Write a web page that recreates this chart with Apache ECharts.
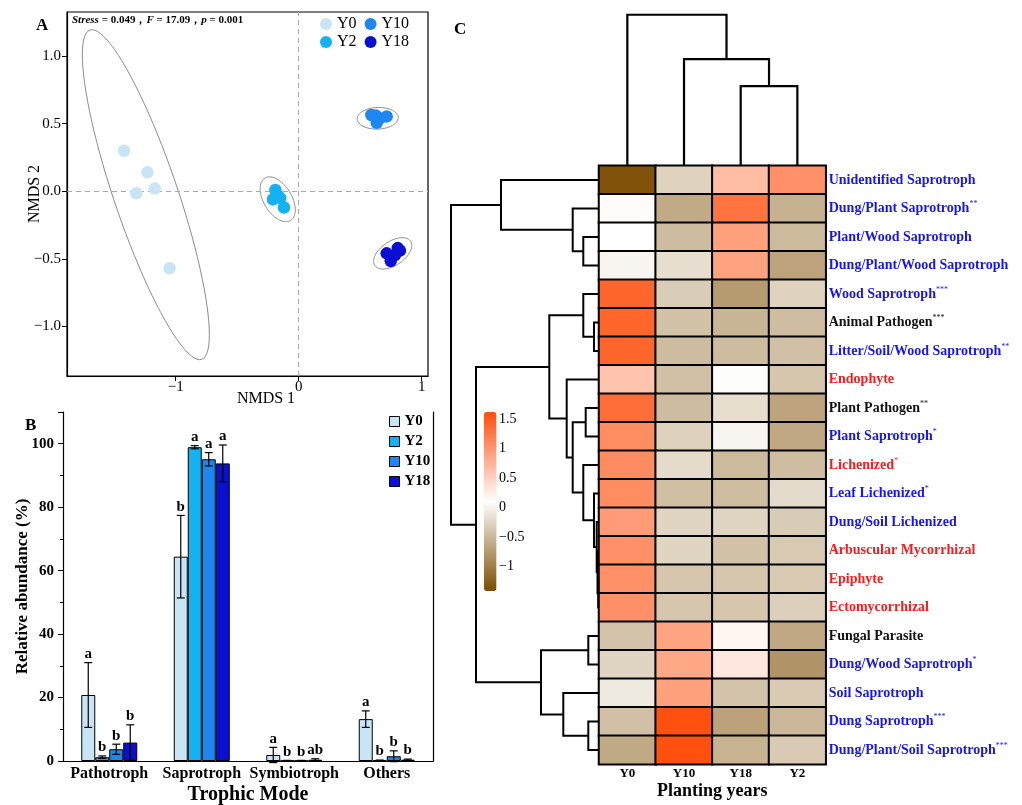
<!DOCTYPE html>
<html>
<head>
<meta charset="utf-8">
<script src="https://cdn.jsdelivr.net/npm/echarts@6/dist/echarts.min.js"></script>
<style>
html,body{margin:0;padding:0;background:#fff}
#main{width:1022px;height:805px}
</style>
</head>
<body>
<div id="main"></div>
<script>
var FONT = 'Liberation Serif, Times New Roman, serif';

/* ---- A: NMDS ---- */
var years = ['Y0', 'Y2', 'Y10', 'Y18'];
var yearColors = ['#c8e5f6', '#14b1f3', '#1d87ef', '#0b0fd3'];
var nmdsY0 = [[-1.42, 0.30], [-1.23, 0.14], [-1.32, -0.015], [-1.17, 0.02], [-1.05, -0.57]];
var nmdsY2 = [[-0.19, 0.01], [-0.21, -0.06], [-0.15, -0.05], [-0.17, -0.03], [-0.12, -0.12]];
var nmdsY10 = [[0.59, 0.564], [0.715, 0.554], [0.634, 0.507], [0.661, 0.54], [0.626, 0.56]];
var nmdsY18 = [[0.805, -0.42], [0.715, -0.459], [0.748, -0.516], [0.783, -0.471], [0.823, -0.439]];
// ellipse: centre x, centre y, semi-axis 1 (dx, dy), semi-axis 2 (dx, dy)
var ellipseY0 = [-1.243, -0.025, -0.454, 1.218, 0.246, 0.076];
var ellipseY2 = [-0.171, -0.059, 0.104, -0.157, 0.098, 0.053];
var ellipseY10 = [0.642, 0.540, 0.167, 0.004, 0.0, 0.08];
var ellipseY18 = [0.764, -0.459, 0.145, 0.090, 0.055, -0.073];
var nmdsXTicks = [-1, 0, 1];
var nmdsYTicks = [-1, -0.5, 0, 0.5, 1];

/* ---- B: trophic mode ---- */
var trophicModes = ['Pathotroph', 'Saprotroph', 'Symbiotroph', 'Others'];
var abunY0 = [20.8, 64.4, 1.9, 13.2];
var abunY2 = [1.2, 98.9, 0.1, 0.2];
var abunY10 = [3.7, 95.1, 0.1, 1.5];
var abunY18 = [5.8, 93.8, 0.4, 0.4];
var errY0 = [10.2, 13.0, 2.4, 2.6];
var errY2 = [0.4, 0.5, 0.1, 0.1];
var errY10 = [1.6, 2.1, 0.1, 1.7];
var errY18 = [5.6, 5.8, 0.3, 0.2];
var lettersY0 = ['a', 'b', 'a', 'a'];
var lettersY2 = ['b', 'a', 'b', 'b'];
var lettersY10 = ['b', 'a', 'b', 'b'];
var lettersY18 = ['b', 'a', 'ab', 'b'];

/* ---- C: heatmap ---- */
var heatCols = ['Y0', 'Y10', 'Y18', 'Y2'];
var heatRows = ['Unidentified Saprotroph', 'Dung/Plant Saprotroph', 'Plant/Wood Saprotroph',
    'Dung/Plant/Wood Saprotroph', 'Wood Saprotroph', 'Animal Pathogen', 'Litter/Soil/Wood Saprotroph',
    'Endophyte', 'Plant Pathogen', 'Plant Saprotroph', 'Lichenized', 'Leaf Lichenized',
    'Dung/Soil Lichenized', 'Arbuscular Mycorrhizal', 'Epiphyte', 'Ectomycorrhizal',
    'Fungal Parasite', 'Dung/Wood Saprotroph', 'Soil Saprotroph', 'Dung Saprotroph',
    'Dung/Plant/Soil Saprotroph'];
var rowStars = ['', '**', '', '', '***', '***', '**', '', '**', '*', '*', '*', '', '', '', '', '', '*', '', '***', '***'];
var rowGroup = ['b', 'b', 'b', 'b', 'b', 'k', 'b', 'r', 'k', 'b', 'r', 'b', 'b', 'r', 'r', 'r', 'k', 'b', 'b', 'b', 'b'];
var heatValues = [
    [-1.34, -0.27, 0.66, 1.04],
    [0.13, -0.61, 1.28, -0.55],
    [0.10, -0.46, 0.90, -0.48],
    [0.02, -0.18, 0.89, -0.67],
    [1.40, -0.32, -0.74, -0.27],
    [1.40, -0.41, -0.52, -0.45],
    [1.40, -0.46, -0.46, -0.43],
    [0.60, -0.43, 0.08, -0.38],
    [1.33, -0.46, -0.18, -0.66],
    [1.07, -0.29, 0.02, -0.63],
    [1.08, -0.20, -0.48, -0.45],
    [1.07, -0.44, -0.45, -0.20],
    [0.94, -0.26, -0.26, -0.33],
    [1.04, -0.26, -0.41, -0.35],
    [1.04, -0.38, -0.38, -0.35],
    [1.04, -0.38, -0.38, -0.30],
    [-0.40, 0.87, 0.18, -0.63],
    [-0.25, 0.84, 0.30, -0.79],
    [-0.08, 0.90, -0.40, -0.34],
    [-0.43, 1.58, -0.68, -0.50],
    [-0.62, 1.58, -0.54, -0.34]
];
var colorbarTicks = [1.5, 1, 0.5, 0, -0.5, -1];
// dendrograms: [childA, childB, height]; ids >= leaf count are earlier merges
var colLinkage = [[2, 3, 79.3], [1, 4, 106], [0, 5, 150.3]];
var rowLinkage = [
    [14, 15, 0.8], [13, 21, 1.5], [12, 22, 2.3], [11, 23, 5], [10, 24, 15.7],
    [8, 9, 13.3], [26, 25, 26.3], [7, 27, 32.3], [5, 6, 5], [4, 29, 15.7],
    [30, 28, 49.7], [2, 3, 15.7], [1, 32, 26.3], [0, 33, 98], [16, 17, 10.7],
    [19, 20, 10.7], [18, 36, 35.7], [35, 37, 58], [31, 38, 123], [34, 39, 148]
];

function minus(s) { return String(s).replace('-', '\u2212'); }

function dendroSegments(n, linkage, swap) {
    var pos = [], h = [], segs = [];
    for (var i = 0; i < n; i++) { pos[i] = i + 0.5; h[i] = 0; }
    linkage.forEach(function (m, k) {
        var a = m[0], b = m[1], hh = m[2];
        var pts = [[pos[a], h[a]], [pos[a], hh], [pos[b], hh], [pos[b], h[b]]];
        if (swap) pts = pts.map(function (p) { return [p[1], p[0]]; });
        segs.push({coords: pts});
        pos[n + k] = (pos[a] + pos[b]) / 2;
        h[n + k] = hh;
    });
    return segs;
}

var myChart = echarts.init(document.getElementById('main'));

var nmdsSets = [nmdsY0, nmdsY2, nmdsY10, nmdsY18];
var ellipseSets = [ellipseY0, ellipseY2, ellipseY10, ellipseY18];
var abunSets = [abunY0, abunY2, abunY10, abunY18];
var errSets = [errY0, errY2, errY10, errY18];
var letterSets = [lettersY0, lettersY2, lettersY10, lettersY18];
var BAR_W = 14;

var series = [];
// scatter (A)
years.forEach(function (y, k) {
    var s = {
        name: y, type: 'scatter', xAxisIndex: 0, yAxisIndex: 0,
        symbolSize: 12.5, itemStyle: {color: yearColors[k], opacity: 1}, z: 5,
        data: nmdsSets[k]
    };
    if (k === 0) {
        s.markLine = {
            silent: true, symbol: 'none', label: {show: false},
            lineStyle: {color: '#a8a8a8', type: [5, 4], width: 1},
            data: [{xAxis: 0}, {yAxis: 0}]
        };
    }
    series.push(s);
});
// ellipses (A)
series.push({
    type: 'custom', xAxisIndex: 0, yAxisIndex: 0, silent: true, z: 3,
    data: ellipseSets,
    renderItem: function (params, api) {
        var cx = api.value(0), cy = api.value(1), ux = api.value(2), uy = api.value(3),
            vx = api.value(4), vy = api.value(5);
        var pts = [];
        for (var t = 0; t <= 90; t++) {
            var a = t / 90 * Math.PI * 2;
            pts.push(api.coord([cx + ux * Math.cos(a) + vx * Math.sin(a), cy + uy * Math.cos(a) + vy * Math.sin(a)]));
        }
        return {type: 'polyline', shape: {points: pts}, style: {fill: null, stroke: '#8c8c8c', lineWidth: 1}};
    }
});
// bars (B)
years.forEach(function (y, k) {
    series.push({
        name: y, type: 'bar', xAxisIndex: 1, yAxisIndex: 1,
        barWidth: BAR_W, barGap: '0%',
        itemStyle: {color: yearColors[k], borderColor: '#000', borderWidth: 1},
        data: abunSets[k]
    });
});
// error bars + letters (B)
years.forEach(function (y, k) {
    series.push({
        type: 'custom', xAxisIndex: 1, yAxisIndex: 1, silent: true, z: 6,
        data: abunSets[k].map(function (v, i) { return [i, v, errSets[k][i]]; }),
        renderItem: function (params, api) {
            var i = api.value(0), m = api.value(1), e = api.value(2);
            var x = api.coord([i, m])[0] + (k - 1.5) * BAR_W;
            var top = api.coord([i, m + e])[1], bot = api.coord([i, m - e])[1];
            var ls = {stroke: '#000', lineWidth: 1.2};
            return {
                type: 'group', children: [
                    {type: 'line', shape: {x1: x, y1: top, x2: x, y2: bot}, style: ls},
                    {type: 'line', shape: {x1: x - 4, y1: top, x2: x + 4, y2: top}, style: ls},
                    {type: 'line', shape: {x1: x - 4, y1: bot, x2: x + 4, y2: bot}, style: ls},
                    {type: 'text', x: x, y: top - 1, style: {
                        text: letterSets[k][params.dataIndex], fill: '#000',
                        font: 'bold 15px ' + FONT, align: 'center', verticalAlign: 'bottom'
                    }}
                ]
            };
        }
    });
});
// heatmap (C)
var heatData = [];
heatValues.forEach(function (row, r) {
    row.forEach(function (v, c) { heatData.push([c, r, v]); });
});
series.push({
    type: 'heatmap', xAxisIndex: 2, yAxisIndex: 2, data: heatData,
    itemStyle: {borderColor: '#000', borderWidth: 2},
    emphasis: {disabled: true}
});
// dendrograms (C)
series.push({
    type: 'lines', coordinateSystem: 'cartesian2d', xAxisIndex: 3, yAxisIndex: 3,
    polyline: true, silent: true,
    lineStyle: {color: '#000', width: 2, opacity: 1},
    data: dendroSegments(heatRows.length, rowLinkage, true)
});
series.push({
    type: 'lines', coordinateSystem: 'cartesian2d', xAxisIndex: 4, yAxisIndex: 4,
    polyline: true, silent: true,
    lineStyle: {color: '#000', width: 2.2, opacity: 1},
    data: dendroSegments(heatCols.length, colLinkage, false)
});
series.push({type: 'scatter', xAxisIndex: 5, yAxisIndex: 5, data: []});

var hidden = {show: false};
var rowRich = {
    b: {color: '#1616f0', fontFamily: FONT, fontWeight: 'bold', fontSize: 14, lineHeight: 17},
    r: {color: '#f51d1d', fontFamily: FONT, fontWeight: 'bold', fontSize: 14, lineHeight: 17},
    k: {color: '#111', fontFamily: FONT, fontWeight: 'bold', fontSize: 14, lineHeight: 17},
    bs: {color: '#1616f0', fontFamily: FONT, fontSize: 8, lineHeight: 9, verticalAlign: 'top'},
    rs: {color: '#f51d1d', fontFamily: FONT, fontSize: 8, lineHeight: 9, verticalAlign: 'top'},
    ks: {color: '#111', fontFamily: FONT, fontSize: 8, lineHeight: 9, verticalAlign: 'top'}
};

var option = {
    backgroundColor: '#fff',
    animation: false,
    title: [
        {text: 'A', left: 31, top: 12, textStyle: {fontFamily: FONT, fontSize: 17, fontWeight: 'bold', color: '#000'}},
        {text: 'B', left: 20, top: 412, textStyle: {fontFamily: FONT, fontSize: 17, fontWeight: 'bold', color: '#000'}},
        {text: 'C', left: 449, top: 16, textStyle: {fontFamily: FONT, fontSize: 17, fontWeight: 'bold', color: '#000'}},
        {
            text: '{i|Stress}{n| = 0.049\uff0c}{i|F}{n| = 17.09\uff0c}{i|p}{n| = 0.001}',
            left: 72, top: 15, padding: 0,
            textStyle: {
                rich: {
                    i: {fontFamily: FONT, fontSize: 11, fontWeight: 'bold', fontStyle: 'italic', color: '#000'},
                    n: {fontFamily: FONT, fontSize: 11, fontWeight: 'bold', color: '#000'}
                }
            }
        }
    ],
    legend: [
        {
            data: ['Y0', 'Y10'], left: 320, top: 16, padding: 0, itemGap: 8,
            icon: 'circle', itemWidth: 12, itemHeight: 12, selectedMode: false,
            textStyle: {fontFamily: FONT, fontSize: 16, color: '#000'}
        },
        {
            data: ['Y2', 'Y18'], left: 320, top: 34, padding: 0, itemGap: 8,
            icon: 'circle', itemWidth: 12, itemHeight: 12, selectedMode: false,
            textStyle: {fontFamily: FONT, fontSize: 16, color: '#000'}
        },
        {
            data: years.map(function (y) {
                return {name: y, icon: 'rect', itemStyle: {borderColor: '#000', borderWidth: 1}};
            }),
            orient: 'vertical', left: 389, top: 414, padding: 0, itemGap: 5,
            itemWidth: 10, itemHeight: 10, selectedMode: false,
            textStyle: {fontFamily: FONT, fontSize: 15, fontWeight: 'bold', color: '#000', lineHeight: 14}
        }
    ],
    visualMap: {
        type: 'continuous', min: -1.4, max: 1.6, seriesIndex: 13,
        orient: 'vertical', left: 484, top: 412, padding: 0,
        itemWidth: 12.5, itemHeight: 179, calculable: false, hoverLink: false,
        inRange: {color: ['#7c4c00', '#ffffff', '#ff4e0c']}
    },
    grid: [
        {left: 67, top: 12, width: 361, height: 364, show: true, borderColor: '#000', borderWidth: 1.2, outerBoundsMode: 'none'},
        {left: 63, top: 412, width: 370, height: 349, outerBoundsMode: 'none'},
        {left: 599, top: 165.7, width: 226.7, height: 598.6, outerBoundsMode: 'none'},
        {left: 451, top: 165.7, width: 148, height: 598.6, outerBoundsMode: 'none'},
        {left: 599, top: 14.7, width: 226.7, height: 151, outerBoundsMode: 'none'},
        {left: 497, top: 419, width: 10, height: 177, outerBoundsMode: 'none'}
    ],
    xAxis: [
        {
            type: 'value', gridIndex: 0, min: -1.884, max: 1.051,
            axisLine: {onZero: false, lineStyle: {color: '#000', width: 1.2}},
            axisTick: {length: 5, lineStyle: {color: '#000'}, customValues: nmdsXTicks},
            axisLabel: {customValues: nmdsXTicks, margin: 4, fontFamily: FONT, fontSize: 15, color: '#000', formatter: minus},
            splitLine: hidden,
            name: 'NMDS 1', nameLocation: 'middle', nameGap: 15, nameMoveOverlap: false,
            nameTextStyle: {fontFamily: FONT, fontSize: 16, color: '#000', padding: [0, 0, 0, 37]}
        },
        {
            type: 'category', gridIndex: 1, data: trophicModes,
            axisLine: {lineStyle: {color: '#000', width: 1.2}},
            axisTick: {length: 5, lineStyle: {color: '#000'}},
            axisLabel: {interval: 0, margin: 5, fontFamily: FONT, fontSize: 16, fontWeight: 'bold', color: '#000'},
            name: 'Trophic Mode', nameLocation: 'middle', nameGap: 24, nameMoveOverlap: false,
            nameTextStyle: {fontFamily: FONT, fontSize: 20, fontWeight: 'bold', color: '#000'}
        },
        {
            type: 'category', gridIndex: 2, data: heatCols, position: 'bottom',
            axisLine: hidden, axisTick: hidden,
            axisLabel: {margin: 3, fontFamily: FONT, fontSize: 13, fontWeight: 'bold', color: '#000'},
            name: 'Planting years', nameLocation: 'middle', nameGap: 18, nameMoveOverlap: false,
            nameTextStyle: {fontFamily: FONT, fontSize: 18, fontWeight: 'bold', color: '#000'}
        },
        {type: 'value', gridIndex: 3, min: 0, max: 148, inverse: true, show: false},
        {type: 'value', gridIndex: 4, min: 0, max: heatCols.length, show: false},
        {type: 'value', gridIndex: 5, min: 0, max: 1, show: false}
    ],
    yAxis: [
        {
            type: 'value', gridIndex: 0, min: -1.366, max: 1.326,
            axisLine: {onZero: false, lineStyle: {color: '#000', width: 1.2}},
            axisTick: {length: 5, lineStyle: {color: '#000'}, customValues: nmdsYTicks},
            axisLabel: {customValues: nmdsYTicks, margin: 6, fontFamily: FONT, fontSize: 15, color: '#000',
                formatter: function (v) { return minus(v.toFixed(1)); }},
            splitLine: hidden,
            name: 'NMDS 2', nameLocation: 'middle', nameGap: 24, nameMoveOverlap: false,
            nameTextStyle: {fontFamily: FONT, fontSize: 16, color: '#000'}
        },
        {
            type: 'value', gridIndex: 1, min: 0, max: 110, interval: 20,
            axisLine: {show: true, onZero: false, lineStyle: {color: '#000', width: 1.2}},
            axisTick: {show: true, length: 5, lineStyle: {color: '#000'}},
            minorTick: {show: true, splitNumber: 2, length: 3, lineStyle: {color: '#000'}},
            axisLabel: {margin: 9, fontFamily: FONT, fontSize: 15, fontWeight: 'bold', color: '#000', showMaxLabel: false},
            splitLine: hidden,
            name: 'Relative abundance (%)', nameLocation: 'middle', nameGap: 32, nameMoveOverlap: false,
            nameTextStyle: {fontFamily: FONT, fontSize: 17, fontWeight: 'bold', color: '#000'}
        },
        {
            type: 'category', gridIndex: 2, data: heatRows, inverse: true, position: 'right',
            axisLine: hidden, axisTick: hidden,
            axisLabel: {
                interval: 0, margin: 3, align: 'left',
                formatter: function (v, i) {
                    var g = rowGroup[i];
                    return '{' + g + '|' + v + '}' + (rowStars[i] ? '{' + g + 's|' + rowStars[i] + '}' : '');
                },
                rich: rowRich
            }
        },
        {type: 'value', gridIndex: 3, min: 0, max: heatRows.length, inverse: true, show: false},
        {type: 'value', gridIndex: 4, min: 0, max: 150.3, show: false},
        {
            type: 'value', gridIndex: 5, min: -1.5, max: 1.5, interval: 0.5,
            axisLine: hidden, axisTick: hidden, splitLine: hidden,
            axisLabel: {
                inside: true, margin: 2, fontFamily: FONT, fontSize: 14, color: '#000',
                customValues: colorbarTicks, formatter: minus
            }
        },
        {
            type: 'value', gridIndex: 1, min: 0, max: 110, position: 'right',
            axisLine: {show: true, onZero: false, lineStyle: {color: '#000', width: 1.2}},
            axisTick: hidden, axisLabel: hidden, splitLine: hidden
        }
    ],
    series: series
};

myChart.setOption(option);
</script>
</body>
</html>
